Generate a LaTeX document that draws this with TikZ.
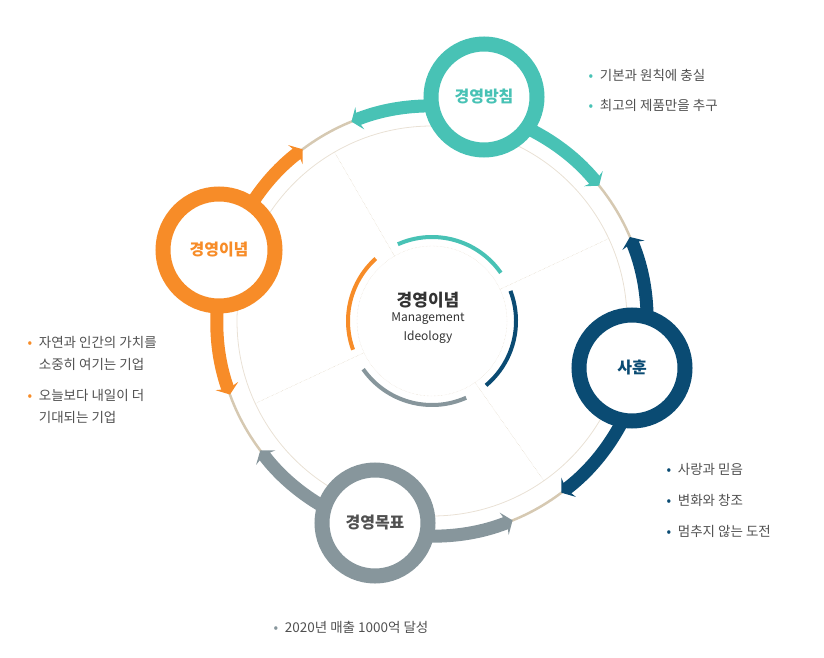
\documentclass[tikz,border=0pt]{standalone}
\usepackage{fontspec}
\setmainfont{Noto Sans CJK KR}
\usepackage{tikz}
\usetikzlibrary{arrows.meta}
\definecolor{cteal}{RGB}{72,194,181}
\definecolor{corange}{RGB}{247,140,40}
\definecolor{cnavy}{RGB}{10,75,115}
\definecolor{cgray}{RGB}{135,150,156}
\definecolor{cbeige}{RGB}{214,201,178}
\definecolor{ctext}{RGB}{80,80,80}
\tikzset{
    ring/.style={circle, fill=white, line width=15pt, minimum size=106pt, font=\fontsize{16}{18}\selectfont\bfseries}, % 바깥 원
    tail/.style={line width=13pt, -{Stealth[length=9pt, width=24pt, inset=3pt]}}, % 꼬리 화살표
    bullet/.style={anchor=west, font=\fontsize{13.5}{22}\selectfont, text=ctext, align=left}
}

\begin{document}
\begin{tikzpicture}[x=1pt, y=1pt]
    \useasboundingbox (0,0) rectangle (824,657);
    \coordinate (c) at (432,336);

    % 바깥 링과 안쪽 가이드
    \draw[cbeige, line width=2.5pt] (c) circle (215);
    \draw[cbeige!55, line width=0.8pt] (c) circle (195);
    \draw[cbeige!70, densely dotted] (c) circle (75);
    \foreach \a in {120, 25, -55, 205} {
        \draw[cbeige, densely dotted] ([shift={(\a:75)}]c) -- ([shift={(\a:195)}]c);
    }

    % 안쪽 색 호
    \foreach \col / \a / \b in {
        cteal/114/35,
        corange/132/200,
        cnavy/21/-50,
        cgray/215/294
    } {
        \draw[\col, line width=4pt] ([shift={(\a:84)}]c) arc (\a:\b:84);
    }

    % 꼬리
    \foreach \col / \a / \b in {
        cteal/77/112, cteal/77/39,
        corange/161/127, corange/161/200,
        cnavy/-13/23, cnavy/-13/-53,
        cgray/254/217, cgray/254/292
    } {
        \draw[tail, \col] ([shift={(\a:215)}]c) arc (\a:\b:215);
    }

    % 원
    \node[ring, draw=cteal, text=cteal] (policy) at (484,560) {경영방침};
    \node[ring, draw=corange, text=corange, minimum size=112pt] (idea) at (219,407) {경영이념};
    \node[ring, draw=cnavy, text=cnavy] (motto) at (632,289) {사훈};
    \node[ring, draw=cgray, text=ctext] (goal) at (375,134) {경영목표};

    % 가운데
    \node[font=\fontsize{17}{19}\selectfont\bfseries, text=black!80] (core) at (428,357) {경영이념};
    \node[font=\fontsize{12}{19}\selectfont, text=black!80, align=center, below=-2pt] (coreen) at (core.south) {Management\\Ideology};

    % 설명
    \node[bullet] (p1) at (585,582) {\textcolor{cteal}{•}\enspace 기본과 원칙에 충실};
    \node[bullet] (p2) at (585,552) {\textcolor{cteal}{•}\enspace 최고의 제품만을 추구};
    \node[bullet] (i1) at (24,304) {\textcolor{corange}{•}\enspace 자연과 인간의 가치를\\\phantom{•}\enspace 소중히 여기는 기업};
    \node[bullet] (i2) at (24,251) {\textcolor{corange}{•}\enspace 오늘보다 내일이 더\\\phantom{•}\enspace 기대되는 기업};
    \node[bullet] (m1) at (663,188) {\textcolor{cnavy}{•}\enspace 사랑과 믿음};
    \node[bullet] (m2) at (663,157) {\textcolor{cnavy}{•}\enspace 변화와 창조};
    \node[bullet] (m3) at (663,126) {\textcolor{cnavy}{•}\enspace 멈추지 않는 도전};
    \node[bullet] (g1) at (270,30) {\textcolor{cgray}{•}\enspace 2020년 매출 1000억 달성};
\end{tikzpicture}
\end{document}
